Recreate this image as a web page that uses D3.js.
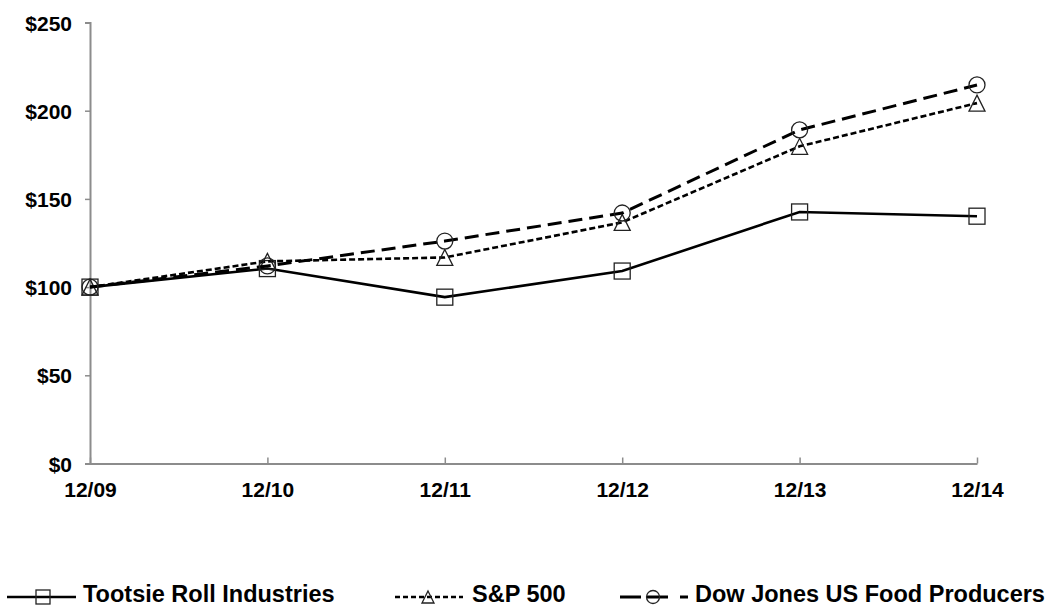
<!DOCTYPE html>
<html>
<head>
<meta charset="utf-8">
<script src="https://cdn.jsdelivr.net/npm/d3@7/dist/d3.min.js"></script>
<style>
  html, body { margin: 0; padding: 0; background: #fff; }
  svg { display: block; }
  text { font-family: "Liberation Sans", Arial, sans-serif; font-weight: bold; fill: #000; }
</style>
</head>
<body>
<svg id="chart" width="1055" height="607"></svg>
<script>
const categories = ["12/09", "12/10", "12/11", "12/12", "12/13", "12/14"];
const tootsie = [100, 110.5, 94.3, 109.1, 142.6, 140.2];
const sp500 = [100, 114.6, 116.8, 136.7, 179.8, 204.3];
const dowFood = [100, 112, 126.1, 142, 189.1, 214.6];
const yTicks = [0, 50, 100, 150, 200, 250];
const seriesNames = ["Tootsie Roll Industries", "S&P 500", "Dow Jones US Food Producers"];

const svg = d3.select("#chart");
const x = d3.scalePoint().domain(categories).range([90, 977]);
const y = d3.scaleLinear().domain([0, 250]).range([463.5, 22.5]);
const axisColor = "#8c8c8c";

// Y axis
const yAxis = svg.append("g").attr("transform", "translate(90,0)")
  .call(d3.axisLeft(y).tickValues(yTicks).tickSize(5).tickPadding(13).tickFormat(d => "$" + d));
yAxis.select(".domain").attr("stroke", axisColor).attr("stroke-width", 2);
yAxis.selectAll(".tick line").attr("stroke", axisColor).attr("stroke-width", 1.5);
yAxis.selectAll(".tick text").attr("font-size", 21).attr("font-family", "Liberation Sans, Arial, sans-serif").attr("font-weight", "bold").attr("fill", "#000").attr("dy", "0.36em");

// X axis
const xAxis = svg.append("g").attr("transform", "translate(0," + y(0) + ")")
  .call(d3.axisBottom(x).tickSize(-6).tickSizeOuter(0).tickPadding(0));
xAxis.select(".domain").attr("stroke", axisColor).attr("stroke-width", 2);
xAxis.selectAll(".tick line").attr("stroke", axisColor).attr("stroke-width", 1.5);
xAxis.selectAll(".tick text").attr("font-size", 21).attr("font-family", "Liberation Sans, Arial, sans-serif").attr("font-weight", "bold").attr("fill", "#000").attr("y", 0).attr("dy", "1.6em");

const line = d3.line().x((d, i) => x(categories[i])).y(d => y(d));

const series = [
  { name: seriesNames[0], values: tootsie, dash: null, width: 2.6, marker: "square" },
  { name: seriesNames[1], values: sp500, dash: "6,3", width: 2.6, marker: "triangle" },
  { name: seriesNames[2], values: dowFood, dash: "14,7", width: 3, marker: "circle" }
];

function drawMarker(g, type, cx, cy, s) {
  if (type === "square") {
    g.append("rect").attr("x", cx - s / 2).attr("y", cy - s / 2).attr("width", s).attr("height", s)
      .attr("fill", "none").attr("stroke", "#222").attr("stroke-width", 1.3);
  } else if (type === "triangle") {
    g.append("path").attr("d", `M${cx},${cy - s / 2}L${cx + s / 2},${cy + s / 2}L${cx - s / 2},${cy + s / 2}Z`)
      .attr("fill", "none").attr("stroke", "#222").attr("stroke-width", 1.3);
  } else {
    g.append("circle").attr("cx", cx).attr("cy", cy).attr("r", s / 2)
      .attr("fill", "none").attr("stroke", "#222").attr("stroke-width", 1.3);
  }
}

series.forEach(s => {
  const g = svg.append("g");
  g.append("path").datum(s.values).attr("d", line).attr("fill", "none")
    .attr("stroke", "#000").attr("stroke-width", s.width)
    .attr("stroke-dasharray", s.dash);
  s.values.forEach((v, i) => drawMarker(g, s.marker, x(categories[i]), y(v), 16));
});

// Legend
const legend = svg.append("g");
const legendY = 597;
const legendItems = [
  { x1: 7, x2: 76, mx: 43, tx: 83, dash: null, w: 2.6, marker: "square", ms: 14 },
  { x1: 395, x2: 463, mx: 428, tx: 472, dash: "5,3", w: 2.6, marker: "triangle", ms: 12 },
  { x1: 620, x2: 688, mx: 653, tx: 695, dash: "21,6,21,12,8", w: 3, marker: "circle", ms: 13 }
];
legendItems.forEach((it, i) => {
  legend.append("line").attr("x1", it.x1).attr("x2", it.x2).attr("y1", legendY).attr("y2", legendY)
    .attr("stroke", "#000").attr("stroke-width", it.w).attr("stroke-dasharray", it.dash);
  drawMarker(legend, it.marker, it.mx, legendY, it.ms);
  legend.append("text").attr("x", it.tx).attr("y", 601.5).attr("font-size", 23.5).text(seriesNames[i]);
});
</script>
</body>
</html>
